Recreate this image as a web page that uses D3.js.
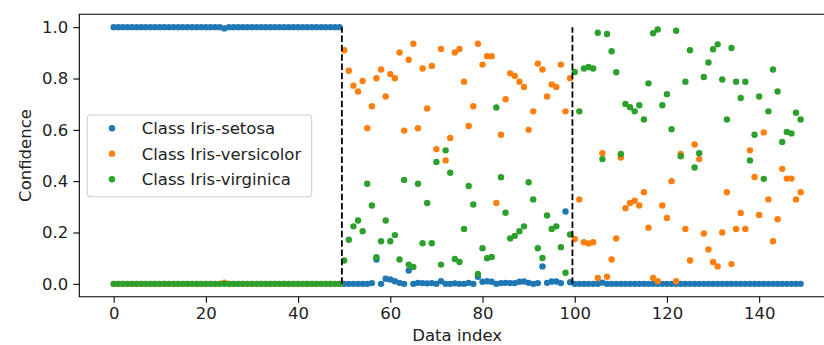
<!DOCTYPE html>
<html>
<head>
<meta charset="utf-8">
<script src="https://cdn.jsdelivr.net/npm/d3@7"></script>
<style>
  body { margin: 0; background: #fff; }
  svg { display: block; font-family: "DejaVu Sans", sans-serif; }
</style>
</head>
<body>
<svg id="chart" width="824" height="345"></svg>
<script>
const width = 824;
const height = 345;

// confidence of each class for every sample
const setosa = [
  1,1,1,1,1,1,1,1,1,1, 1,1,1,1,1,1,1,1,1,1, 1,1,1,1,0.995,1,1,1,1,1, 1,1,1,1,1,1,1,1,1,1, 1,1,1,1,1,1,1,1,1,1,
  0,0,0,0,0,0,0.003,0.095,0,0.02, 0.017,0.01,0.004,0,0.052,0,0.004,0.003,0.002,0.003,
  0,0.01,0,0,0.002,0,0,0.004,0,0.028, 0.008,0.01,0.008,0,0.003,0.004,0.003,0.003,0.008,0.009,
  0.004,0,0.003,0.068,0.004,0.009,0.009,0.003,0.282,0.006,
  0,0,0,0,0,0,0.005,0,0,0, 0,0,0,0,0,0,0,0,0,0, 0,0,0,0,0,0,0,0,0,0, 0,0,0,0,0,0,0,0,0,0, 0,0,0,0,0,0,0,0,0,0
];
const versicolor = [
  0,0,0,0,0,0,0,0,0,0, 0,0,0,0,0,0,0,0,0,0, 0,0,0,0,0.005,0,0,0,0,0, 0,0,0,0,0,0,0,0,0,0, 0,0,0,0,0,0,0,0,0,0,
  0.910,0.830,0.772,0.749,0.790,0.606,0.692,0.801,0.835,0.730,
  0.817,0.801,0.901,0.597,0.873,0.935,0.606,0.839,0.683,0.849,
  0.525,0.915,0.481,0.568,0.901,0.915,0.787,0.615,0.692,0.935,
  0.854,0.887,0.887,0.315,0.581,0.719,0.820,0.810,0.787,0.767,
  0.600,0.672,0.858,0.835,0.730,0.777,0.767,0.854,0.672,0.801,
  0.175,0.329,0.162,0.157,0.162,0.023,0.509,0.028,0.095,0.177,
  0.492,0.295,0.315,0.324,0.305,0.357,0.219,0.023,0.010,0.305,
  0.257,0.400,0.010,0.506,0.214,0.091,0.543,0.486,0.196,0.134,
  0.085,0.068,0.200,0.357,0.077,0.214,0.276,0.214,0.520,0.416,
  0.268,0.590,0.329,0.166,0.252,0.448,0.410,0.410,0.329,0.357
];
const virginica = [
  0,0,0,0,0,0,0,0,0,0, 0,0,0,0,0,0,0,0,0,0, 0,0,0,0,0,0,0,0,0,0, 0,0,0,0,0,0,0,0,0,0, 0,0,0,0,0,0,0,0,0,0,
  0.091,0.172,0.224,0.247,0.205,0.390,0.305,0.104,0.166,0.247,
  0.166,0.190,0.095,0.405,0.075,0.066,0.390,0.158,0.315,0.158,
  0.475,0.075,0.520,0.433,0.097,0.085,0.214,0.381,0.309,0.039,
  0.139,0.100,0.105,0.687,0.415,0.277,0.177,0.187,0.205,0.224,
  0.396,0.329,0.139,0.101,0.266,0.214,0.224,0.143,0.043,0.192,
  0.825,0.672,0.839,0.845,0.839,0.978,0.486,0.973,0.906,0.824,
  0.506,0.701,0.688,0.672,0.696,0.640,0.781,0.976,0.991,0.696,
  0.739,0.602,0.986,0.497,0.787,0.910,0.453,0.509,0.806,0.862,
  0.914,0.933,0.796,0.640,0.919,0.787,0.724,0.787,0.481,0.581,
  0.730,0.409,0.672,0.835,0.749,0.553,0.592,0.586,0.667,0.640
];

const classNames = ["Class Iris-setosa", "Class Iris-versicolor", "Class Iris-virginica"];
const classColors = ["#1f77b4", "#ff7f0e", "#2ca02c"];
const boundaries = [49.5, 99.5];
const xTicks = [0, 20, 40, 60, 80, 100, 120, 140];
const yTicks = [0, 0.2, 0.4, 0.6, 0.8, 1.0];

const svg = d3.select("#chart");

// axes box (right side runs off the picture like the original)
const plotLeft = 79.3, plotRight = 835, plotTop = 14.3, plotBottom = 296.7;

const x = d3.scaleLinear().domain([-7.45, 156.45]).range([plotLeft, plotRight]);
const y = d3.scaleLinear().domain([-0.05, 1.05]).range([plotBottom, plotTop]);

// points, one group per class, green drawn last
const series = [setosa, versicolor, virginica];
series.forEach(function(vals, k){
    svg.append("g")
        .selectAll("circle")
        .data(vals)
        .enter()
        .append("circle")
            .attr("cx", function(d, i){ return x(i); })
            .attr("cy", function(d){ return y(d); })
            .attr("r", 3.2)
            .attr("fill", classColors[k]);
});

// dashed class boundaries
svg.append("g")
    .selectAll("line")
    .data(boundaries)
    .enter()
    .append("line")
        .attr("x1", function(d){ return x(d); })
        .attr("x2", function(d){ return x(d); })
        .attr("y1", y(0))
        .attr("y2", y(1))
        .attr("stroke", "#000")
        .attr("stroke-width", 1.8)
        .attr("stroke-dasharray", "6.5,2.8");

// frame
svg.append("path")
    .attr("d", `M${plotRight},${plotTop}H${plotLeft}V${plotBottom}H${plotRight}`)
    .attr("fill", "none")
    .attr("stroke", "#000")
    .attr("stroke-width", 1.1);

const xAxis = svg.append("g")
    .attr("transform", `translate(0,${plotBottom})`)
    .call(d3.axisBottom(x).tickValues(xTicks).tickSize(6).tickPadding(5));
const yAxis = svg.append("g")
    .attr("transform", `translate(${plotLeft},0)`)
    .call(d3.axisLeft(y).tickValues(yTicks).tickFormat(d3.format(".1f")).tickSize(6).tickPadding(5));

[xAxis, yAxis].forEach(function(a){
    a.select(".domain").remove();
    a.selectAll("line").attr("stroke", "#000").attr("stroke-width", 1.1);
    a.selectAll("text")
        .attr("fill", "#222")
        .style("font-family", "DejaVu Sans")
        .style("font-size", "16.5px");
});

// axis titles
svg.append("text")
    .attr("x", (plotLeft + plotRight) / 2)
    .attr("y", 341)
    .attr("text-anchor", "middle")
    .attr("fill", "#222")
    .style("font-size", "16.5px")
    .text("Data index");

svg.append("text")
    .attr("transform", `translate(30.5,${(plotTop + plotBottom) / 2}) rotate(-90)`)
    .attr("text-anchor", "middle")
    .attr("fill", "#222")
    .style("font-size", "16.5px")
    .text("Confidence");

// legend
const legend = svg.append("g");
legend.append("rect")
    .attr("x", 87.3)
    .attr("y", 115)
    .attr("width", 224.4)
    .attr("height", 81.7)
    .attr("rx", 3.5)
    .attr("fill", "#fff")
    .attr("fill-opacity", 0.8)
    .attr("stroke", "#d0d0d0")
    .attr("stroke-width", 1.1);

const items = legend.selectAll("g.item")
    .data(classNames)
    .enter()
    .append("g")
        .attr("class", "item")
        .attr("transform", function(d, i){ return `translate(0,${128.3 + i * 25.5})`; });

items.append("circle")
    .attr("cx", 112)
    .attr("cy", 0)
    .attr("r", 3.2)
    .attr("fill", function(d, i){ return classColors[i]; });

items.append("text")
    .attr("x", 141.7)
    .attr("y", 0)
    .attr("dy", "0.35em")
    .attr("fill", "#222")
    .style("font-size", "16.5px")
    .text(function(d){ return d; });
</script>
</body>
</html>
